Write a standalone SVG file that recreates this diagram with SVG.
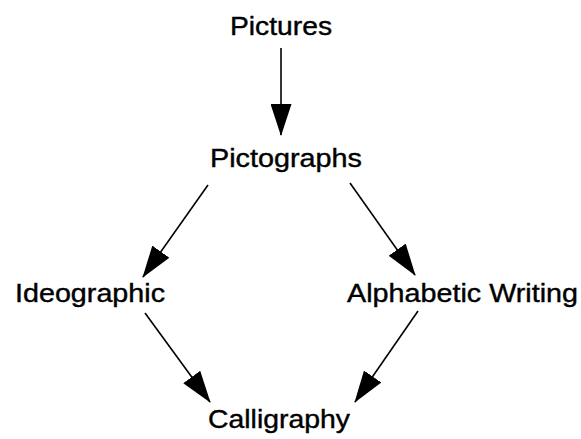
<svg xmlns="http://www.w3.org/2000/svg" width="581" height="439" viewBox="0 0 581 439">
<style>
text{font-family:"Liberation Sans",Arial,sans-serif;font-size:26px;fill:#000;stroke:#000;stroke-width:0.4}
.c{stroke:#000;stroke-width:1.6;fill:none;marker-end:url(#ah)}
</style>
<defs>
<marker id="ah" markerUnits="userSpaceOnUse" markerWidth="32" markerHeight="21" refX="31" refY="10.5" orient="auto" viewBox="0 0 32 21">
<path d="M0,0 L32,10.5 L0,21 z" fill="#000"/>
</marker>
</defs>
<rect width="581" height="439" fill="#fff"/>
<g id="connectors">
<line class="c" x1="281" y1="48" x2="281" y2="135"/>
<line class="c" x1="208" y1="185" x2="143" y2="277"/>
<line class="c" x1="350" y1="183" x2="415" y2="275"/>
<line class="c" x1="145" y1="313" x2="210" y2="402"/>
<line class="c" x1="418" y1="311" x2="355" y2="402"/>
</g>
<g id="pictures"><text x="230" y="35" textLength="102" lengthAdjust="spacingAndGlyphs">Pictures</text></g>
<g id="pictographs"><text x="210" y="167" textLength="152" lengthAdjust="spacingAndGlyphs">Pictographs</text></g>
<g id="ideographic"><text x="15" y="302" textLength="150" lengthAdjust="spacingAndGlyphs">Ideographic</text></g>
<g id="alphabetic"><text x="347" y="302" textLength="231" lengthAdjust="spacingAndGlyphs">Alphabetic Writing</text></g>
<g id="calligraphy"><text x="208" y="428" textLength="142" lengthAdjust="spacingAndGlyphs">Calligraphy</text></g>
</svg>
